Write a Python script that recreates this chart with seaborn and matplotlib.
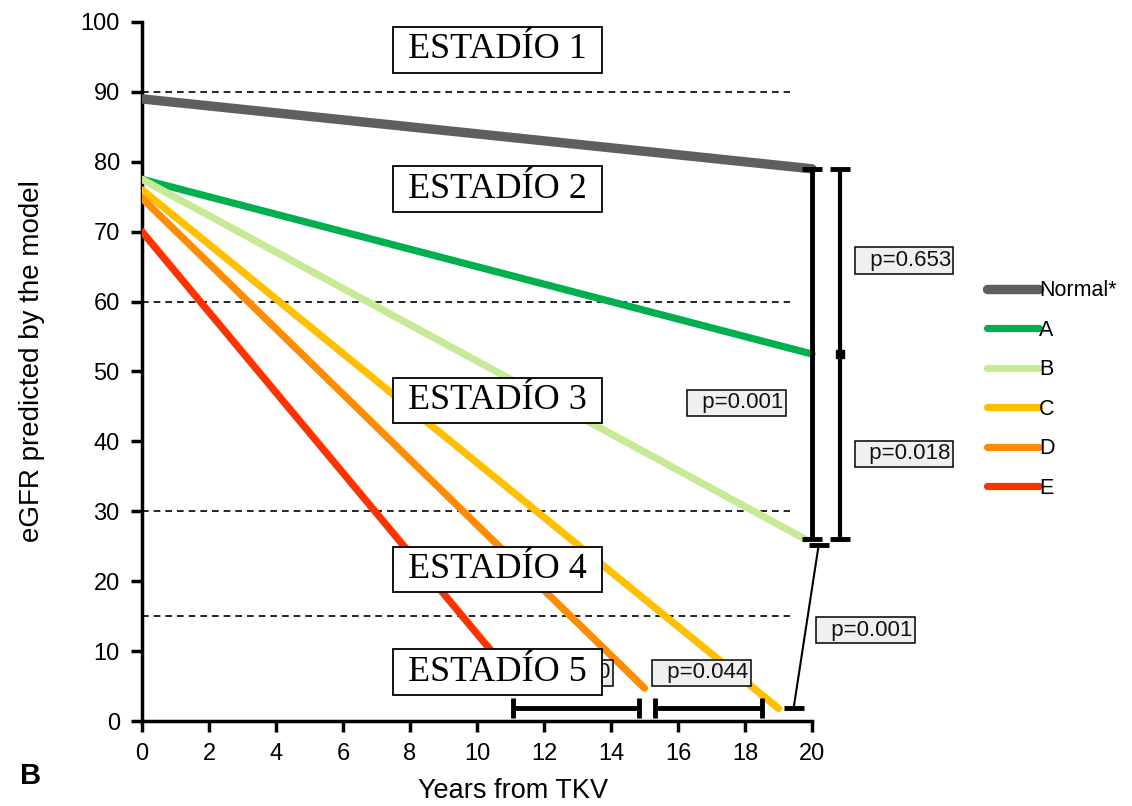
import matplotlib
matplotlib.use("Agg")
import matplotlib.pyplot as plt
import seaborn as sns
import pandas as pd

sns.set_style("white")
plt.rcParams["font.family"] = ["Liberation Sans", "DejaVu Sans"]
plt.rcParams["text.color"] = "black"
plt.rcParams["axes.labelcolor"] = "black"

# groups: start value at year 0, end point
groups = ["Normal*", "A", "B", "C", "D", "E"]
start_y = [89, 77.5, 77.5, 76, 74.8, 70]
end_x = [20, 20, 19.8, 19.0, 15.0, 11.3]
end_y = [79, 52.5, 26, 1.8, 4.7, 5.0]
colors = ["#5f5f5f", "#00b04f", "#c6ea96", "#ffc000", "#ff8c00", "#ff3300"]
widths = [6.8, 5.2, 5.2, 5.2, 5.2, 5.2]

stage_levels = [90, 60, 30, 15]
stage_labels = ["ESTADÍO 1", "ESTADÍO 2", "ESTADÍO 3", "ESTADÍO 4", "ESTADÍO 5"]
stage_y = [96, 76.1, 45.8, 21.7, 7.0]

# p-value boxes (x, y, text)
p_x = [22.75, 22.75, 17.75, 21.6, 16.7, 12.6]
p_y = [65.9, 38.2, 45.5, 13.0, 6.9, 6.9]
p_txt = ["p=0.653", "p=0.018", "p=0.001", "p=0.001", "p=0.044", "p=0.010"]

rows = []
for g, y0, x1, y1 in zip(groups, start_y, end_x, end_y):
    rows.append([g, 0, y0])
    rows.append([g, x1, y1])
df = pd.DataFrame(rows, columns=["group", "year", "egfr"])

fig = plt.figure(figsize=(11.32, 8.06), dpi=100)
ax = fig.add_axes([142 / 1132, 85 / 806, 990 / 1132, 699 / 806])

for g, c, w in zip(groups, colors, widths):
    sns.lineplot(data=df[df.group == g], x="year", y="egfr", color=c, lw=w,
                 label=g, ax=ax, solid_capstyle="round", zorder=3)

for lv in stage_levels:
    ax.plot([0, 19.35], [lv, lv], color="black", lw=1.2, ls=(0, (4, 3)), zorder=2)

for lab, sy in zip(stage_labels, stage_y):
    ax.text(10.6, sy, " " + lab + " ", ha="center", va="center", fontsize=26,
            family=["Liberation Serif", "DejaVu Serif"], zorder=6, color="black",
            bbox=dict(boxstyle="square,pad=0.17", fc="white", ec="black", lw=1.3))

for px, py, t in zip(p_x, p_y, p_txt):
    z = 4 if t == "p=0.010" else 5
    ax.text(px, py, "  " + t, ha="center", va="center", fontsize=16, zorder=z,
            color="#111111",
            bbox=dict(boxstyle="square,pad=0.12", fc="#f0f0f0", ec="black", lw=1.1))

# brackets
ax.errorbar([20], [52.5], yerr=[[26.5], [26.5]], color="black", elinewidth=3.5,
            capsize=7, capthick=3.5, zorder=4, clip_on=False)
ax.errorbar([20.85], [52.5], yerr=[[26.5], [26.5]], color="black", elinewidth=3,
            capsize=7, capthick=3.5, marker="s", ms=6, zorder=4, clip_on=False)
ax.plot([19.45, 20.2], [1.8, 25.2], color="black", lw=1.5, marker="_", ms=15,
        mew=3.5, zorder=4)
ax.errorbar([12.95], [1.9], xerr=[[1.88], [1.88]], color="black", elinewidth=3.5,
            capsize=7, capthick=3.5, zorder=4)
ax.errorbar([16.9], [1.9], xerr=[[1.6], [1.6]], color="black", elinewidth=3.5,
            capsize=7, capthick=3.5, zorder=4)

ax.set_xlim(0, 990 / 33.5)
ax.set_ylim(0, 100)
ax.set_xticks(range(0, 21, 2))
ax.set_yticks(range(0, 101, 10))
for s in ["top", "right"]:
    ax.spines[s].set_visible(False)
for s in ["left", "bottom"]:
    ax.spines[s].set_linewidth(2.5)
    ax.spines[s].set_color("black")
ax.spines["bottom"].set_bounds(0, 20)
ax.tick_params(axis="both", direction="out", length=8, width=2.5, labelsize=17,
               pad=8, bottom=True, left=True, colors="black")

ax.set_xlabel("Years from TKV", fontsize=19.5)
ax.xaxis.set_label_coords(11.07 / (990 / 33.5), -0.082)
ax.set_ylabel("eGFR predicted by the model", fontsize=20)
ax.yaxis.set_label_coords(-0.098, 0.515)

h, l = ax.get_legend_handles_labels()
leg = ax.legend(h, l, loc="upper left", bbox_to_anchor=(968 / 1132, 1 - 261 / 806),
                bbox_transform=fig.transFigure, frameon=False, fontsize=15.5,
                handlelength=2.4, handletextpad=0.0, labelspacing=0.86)

fig.text(20 / 1132, 1 - 776 / 806, "B", fontsize=21, fontweight="bold", va="center")

fig.savefig("out.png", dpi=100)
